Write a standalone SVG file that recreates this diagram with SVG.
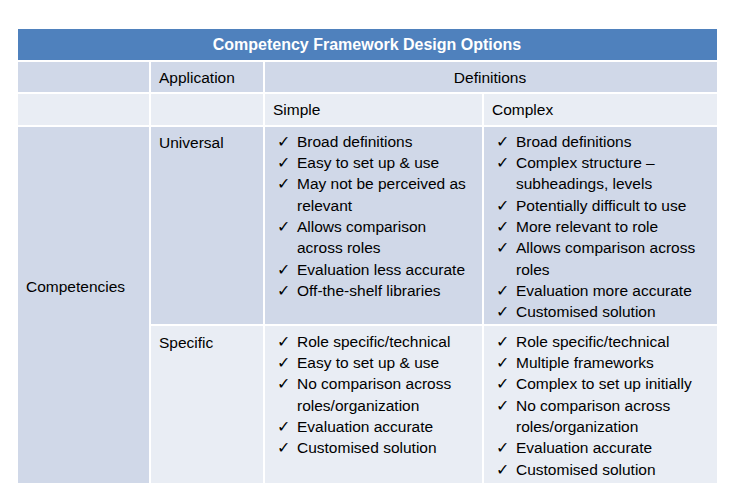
<svg xmlns="http://www.w3.org/2000/svg" width="737" height="496" viewBox="0 0 737 496">
<style>
.t{font-family:"Liberation Sans",Arial,sans-serif;font-size:15.5px;fill:#000}
.h{font-family:"Liberation Sans",Arial,sans-serif;font-size:16px;font-weight:bold;fill:#fff}
.d{fill:#D0D8E8}.l{fill:#E9EDF4}
</style>
<rect width="737" height="496" fill="#fff"/>
<g id="table">
<rect x="18" y="29" width="699" height="31" fill="#4F81BD"/>
<rect class="d" x="18" y="62" width="131" height="30"/>
<rect class="d" x="151" y="62" width="112" height="30"/>
<rect class="d" x="265" y="62" width="452" height="30"/>
<rect class="l" x="18" y="94" width="131" height="31"/>
<rect class="l" x="151" y="94" width="112" height="31"/>
<rect class="l" x="265" y="94" width="217" height="31"/>
<rect class="l" x="484" y="94" width="233" height="31"/>
<rect class="d" x="18" y="127" width="131" height="356"/>
<rect class="d" x="151" y="127" width="112" height="197"/>
<rect class="d" x="265" y="127" width="217" height="197"/>
<rect class="d" x="484" y="127" width="233" height="197"/>
<rect class="l" x="151" y="326" width="112" height="157"/>
<rect class="l" x="265" y="326" width="217" height="157"/>
<rect class="l" x="484" y="326" width="233" height="157"/>
</g>
<g id="labels">
<text class="h" x="367" y="50" text-anchor="middle">Competency Framework Design Options</text>
<text class="t" x="159" y="83">Application</text>
<text class="t" x="490" y="83" text-anchor="middle">Definitions</text>
<text class="t" x="273" y="115">Simple</text>
<text class="t" x="492" y="115">Complex</text>
<text class="t" x="26" y="292">Competencies</text>
<text class="t" x="159" y="148">Universal</text>
<text class="t" x="159" y="348">Specific</text>
</g>
<g id="simple-universal" class="t">
<text x="277" y="147">✓</text><text x="297" y="147">Broad definitions</text>
<text x="277" y="168">✓</text><text x="297" y="168">Easy to set up &amp; use</text>
<text x="277" y="189">✓</text><text x="297" y="189">May not be perceived as</text>
<text x="297" y="211">relevant</text>
<text x="277" y="232">✓</text><text x="297" y="232">Allows comparison</text>
<text x="297" y="253">across roles</text>
<text x="277" y="275">✓</text><text x="297" y="275">Evaluation less accurate</text>
<text x="277" y="296">✓</text><text x="297" y="296">Off-the-shelf libraries</text>
</g>
<g id="complex-universal" class="t">
<text x="496" y="147">✓</text><text x="516" y="147">Broad definitions</text>
<text x="496" y="168">✓</text><text x="516" y="168">Complex structure –</text>
<text x="516" y="189">subheadings, levels</text>
<text x="496" y="211">✓</text><text x="516" y="211">Potentially difficult to use</text>
<text x="496" y="232">✓</text><text x="516" y="232">More relevant to role</text>
<text x="496" y="253">✓</text><text x="516" y="253">Allows comparison across</text>
<text x="516" y="275">roles</text>
<text x="496" y="296">✓</text><text x="516" y="296">Evaluation more accurate</text>
<text x="496" y="317">✓</text><text x="516" y="317">Customised solution</text>
</g>
<g id="simple-specific" class="t">
<text x="277" y="347">✓</text><text x="297" y="347">Role specific/technical</text>
<text x="277" y="368">✓</text><text x="297" y="368">Easy to set up &amp; use</text>
<text x="277" y="389">✓</text><text x="297" y="389">No comparison across</text>
<text x="297" y="411">roles/organization</text>
<text x="277" y="432">✓</text><text x="297" y="432">Evaluation accurate</text>
<text x="277" y="453">✓</text><text x="297" y="453">Customised solution</text>
</g>
<g id="complex-specific" class="t">
<text x="496" y="347">✓</text><text x="516" y="347">Role specific/technical</text>
<text x="496" y="368">✓</text><text x="516" y="368">Multiple  frameworks</text>
<text x="496" y="389">✓</text><text x="516" y="389">Complex to set up initially</text>
<text x="496" y="411">✓</text><text x="516" y="411">No comparison across</text>
<text x="516" y="432">roles/organization</text>
<text x="496" y="453">✓</text><text x="516" y="453">Evaluation accurate</text>
<text x="496" y="475">✓</text><text x="516" y="475">Customised solution</text>
</g>
</svg>
